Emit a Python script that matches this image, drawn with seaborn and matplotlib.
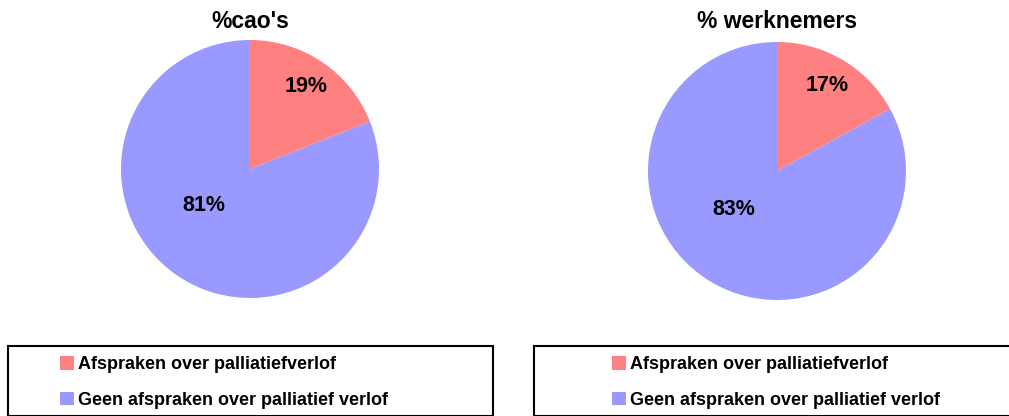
import matplotlib
matplotlib.use("Agg")
import matplotlib.pyplot as plt
import seaborn as sns
from matplotlib.patches import Rectangle

sns.set_theme(style="white")
plt.rcParams['font.family'] = ['Liberation Sans', 'DejaVu Sans']

categorieen = ["Afspraken over palliatiefverlof", "Geen afspraken over palliatief verlof"]
titels = ["%cao's", "% werknemers"]
cao_waarden = [19, 81]
werknemer_waarden = [17, 83]
kleuren = ["#FF8080", "#9999FF"]

fig = plt.figure(figsize=(10.09, 4.16), dpi=100)
W, H = 1009, 416

def pie_as(cx, cy, r, waarden, titel):
    ax = fig.add_axes([(cx - r) / W, 1 - (cy + r) / H, 2 * r / W, 2 * r / H])
    wedges, texts, autotexts = ax.pie(waarden, colors=kleuren, startangle=90, counterclock=False,
                                      autopct='%1.0f%%', pctdistance=0.77,
                                      wedgeprops=dict(linewidth=0),
                                      textprops=dict(fontsize=15.5, fontweight='bold', color='black'))
    # het grote segment staat dichter bij het midden
    x, y = autotexts[1].get_position()
    autotexts[1].set_position((x * 0.62 - 0.09, y * 0.62 + 0.11))
    ax.set_aspect('equal')
    ax.set_xlim(-1, 1)
    ax.set_ylim(-1, 1)
    fig.text(cx / W, 1 - 22 / H, titel, ha='center', va='center', fontsize=16.5,
             fontweight='bold', color='black')
    return wedges

w1 = pie_as(250, 169, 129, cao_waarden, titels[0])
w2 = pie_as(777, 171, 129, werknemer_waarden, titels[1])

# legendakaders
fig.add_artist(Rectangle((8 / W, 0), 485 / W, 1 - 346 / H, transform=fig.transFigure,
                         fill=False, edgecolor='black', linewidth=1.5))
fig.add_artist(Rectangle((534 / W, 0), 480 / W, 1 - 346 / H, transform=fig.transFigure,
                         fill=False, edgecolor='black', linewidth=1.5))

opties = dict(loc='upper left', frameon=False, prop=dict(weight='bold', size=13),
              handlelength=0.75, handleheight=0.75, handletextpad=0.25, labelspacing=1.05,
              borderaxespad=0, labelcolor='black')
fig.legend(w1, categorieen, bbox_to_anchor=(53 / W, 1 - 349 / H), **opties)
fig.legend(w2, categorieen, bbox_to_anchor=(605 / W, 1 - 349 / H), **opties)

fig.savefig("out.png", dpi=100, facecolor='white')
